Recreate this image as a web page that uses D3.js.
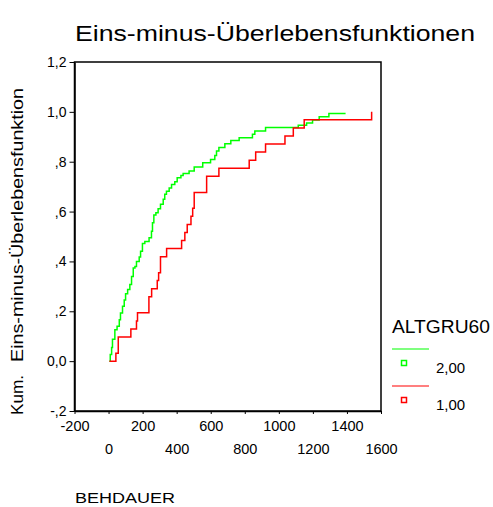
<!DOCTYPE html>
<html>
<head>
<meta charset="utf-8">
<script src="https://cdn.jsdelivr.net/npm/d3@7"></script>
<style>
  body { margin: 0; background: #fff; }
  text { font-family: "Liberation Sans", Arial, sans-serif; fill: #000; }
</style>
</head>
<body>
<script>
const groups = ["2,00", "1,00"];
const colors = ["#00ff00", "#ff0000"];

const greenTime = [5, 10, 18, 23, 37, 50, 63, 70, 82, 92, 100, 112, 125, 135, 145, 155, 164, 180, 188, 199,
  213, 238, 252, 258, 266, 278, 291, 305, 321, 330, 340, 356, 370, 389, 403, 425, 438, 473, 503, 553,
  599, 624, 634, 648, 683, 718, 767, 845, 859, 922, 1114, 1163, 1198, 1237, 1294, 1392];
const greenValue = [0, 0.027, 0.055, 0.088, 0.126, 0.14, 0.166, 0.193, 0.22, 0.245, 0.27, 0.287, 0.307, 0.34, 0.374, 0.38, 0.40, 0.418, 0.441, 0.472,
  0.48, 0.495, 0.521, 0.555, 0.586, 0.595, 0.611, 0.629, 0.649, 0.669, 0.682, 0.695, 0.709, 0.72, 0.736, 0.745, 0.753, 0.763, 0.779, 0.796,
  0.809, 0.825, 0.843, 0.857, 0.872, 0.885, 0.896, 0.91, 0.923, 0.937, 0.946, 0.955, 0.967, 0.98, 0.993, 0.993];

const redTime = [5, 43, 57, 131, 164, 170, 237, 253, 286, 294, 305, 341, 429, 448, 462, 484, 494, 503, 576, 648,
  826, 864, 922, 1036, 1085, 1149, 1545];
const redValue = [0, 0.032, 0.097, 0.129, 0.161, 0.194, 0.258, 0.290, 0.323, 0.355, 0.419, 0.452, 0.484, 0.516, 0.548, 0.581, 0.613, 0.677, 0.742, 0.774,
  0.806, 0.839, 0.871, 0.903, 0.935, 0.968, 1.0];

const xTicks = [-200, 0, 200, 400, 600, 800, 1000, 1200, 1400, 1600];
const yTicks = [-0.2, 0, 0.2, 0.4, 0.6, 0.8, 1.0, 1.2];
const yTickLabels = ["-,2", "0,0", ",2", ",4", ",6", ",8", "1,0", "1,2"];

const width = 493, height = 507;
const margin = {top: 62, right: 112, bottom: 96, left: 74.5};

const svg = d3.select("body").append("svg")
  .attr("width", width)
  .attr("height", height);

const x = d3.scaleLinear()
  .domain([-200, 1600])
  .range([margin.left, width - margin.right]);

const y = d3.scaleLinear()
  .domain([-0.2, 1.2])
  .range([height - margin.bottom, margin.top]);

// frame
svg.append("rect")
  .attr("x", x(-200)).attr("y", y(1.2))
  .attr("width", x(1600) - x(-200)).attr("height", y(-0.2) - y(1.2))
  .attr("fill", "none").attr("stroke", "#000").attr("stroke-width", 1.5);

// x axis, labels on two rows
const xAxis = svg.append("g")
  .attr("transform", `translate(0,${y(-0.2)})`)
  .call(d3.axisBottom(x).tickValues(xTicks).tickSize(3).tickSizeOuter(0).tickPadding(7)
    .tickFormat(d => String(d)));
xAxis.select(".domain").attr("stroke-width", 1.5);
xAxis.selectAll("text")
  .attr("font-size", 14.5)
  .attr("font-family", "Liberation Sans, Arial, sans-serif")
  .attr("dy", (d, i) => i % 2 ? "2.3em" : "0.71em");

// y axis
const yAxis = svg.append("g")
  .attr("transform", `translate(${x(-200)},0)`)
  .call(d3.axisLeft(y).tickValues(yTicks).tickSize(5).tickSizeOuter(0).tickPadding(3)
    .tickFormat((d, i) => yTickLabels[i]));
yAxis.select(".domain").attr("stroke-width", 1.5);
yAxis.selectAll("text")
  .attr("font-size", 14)
  .attr("font-family", "Liberation Sans, Arial, sans-serif");

// curves
const line = d3.line()
  .x(d => x(d[0]))
  .y(d => y(d[1]))
  .curve(d3.curveStepAfter);

const series = [
  d3.zip(greenTime, greenValue),
  d3.zip(redTime, redValue)
];

svg.append("g")
  .selectAll("path")
  .data(series)
  .join("path")
    .attr("d", line)
    .attr("fill", "none")
    .attr("stroke", (d, i) => colors[i])
    .attr("stroke-width", 1.5);

// title
svg.append("text")
  .attr("x", 75).attr("y", 41)
  .attr("font-size", 22)
  .attr("textLength", 400)
  .attr("lengthAdjust", "spacingAndGlyphs")
  .text("Eins-minus-Überlebensfunktionen");

// y label
svg.append("text")
  .attr("transform", "translate(23,415) rotate(-90)")
  .attr("font-size", 16.5)
  .attr("textLength", 40)
  .attr("lengthAdjust", "spacingAndGlyphs")
  .text("Kum.");
svg.append("text")
  .attr("transform", "translate(23,362) rotate(-90)")
  .attr("font-size", 16.5)
  .attr("textLength", 274)
  .attr("lengthAdjust", "spacingAndGlyphs")
  .text("Eins-minus-Überlebensfunktion");

// x label
svg.append("text")
  .attr("x", 75).attr("y", 503)
  .attr("font-size", 14)
  .attr("textLength", 100)
  .attr("lengthAdjust", "spacingAndGlyphs")
  .text("BEHDAUER");

// legend
const legend = svg.append("g");
legend.append("text")
  .attr("x", 392).attr("y", 333)
  .attr("font-size", 18)
  .attr("textLength", 98)
  .attr("lengthAdjust", "spacingAndGlyphs")
  .text("ALTGRU60");

const item = legend.selectAll("g.item")
  .data(groups)
  .join("g")
    .attr("class", "item")
    .attr("transform", (d, i) => `translate(0,${349 + i * 37})`);

item.append("line")
  .attr("x1", 392).attr("x2", 429)
  .attr("stroke", (d, i) => colors[i])
  .attr("stroke-width", 1.2);

item.append("rect")
  .attr("x", 401.5).attr("y", 11.5)
  .attr("width", 5).attr("height", 5)
  .attr("fill", "none")
  .attr("stroke", (d, i) => colors[i])
  .attr("stroke-width", 1.5);

item.append("text")
  .attr("x", 436).attr("y", 24)
  .attr("font-size", 15)
  .text(d => d);
</script>
</body>
</html>
